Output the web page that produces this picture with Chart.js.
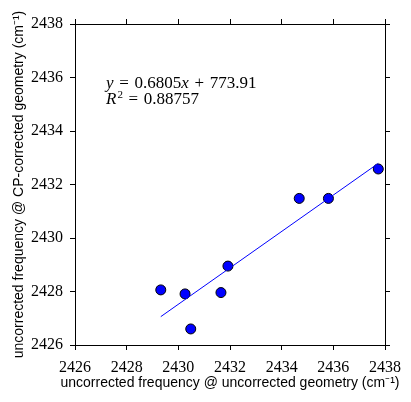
<!DOCTYPE html>
<html>
<head>
<meta charset="utf-8">
<script src="https://cdn.jsdelivr.net/npm/chart.js@4"></script>
<style>
  html, body { margin: 0; padding: 0; background: #fff; }
  #wrap { width: 411px; height: 402px; }
</style>
</head>
<body>
<div id="wrap"><canvas id="chart"></canvas></div>
<script>
// measured points (cm-1)
const xVals = [2429.32, 2430.26, 2430.48, 2431.65, 2431.92, 2434.68, 2435.81, 2437.74];
const yVals = [2428.06, 2427.91, 2426.60, 2427.96, 2428.95, 2431.48, 2431.48, 2432.58];

// fitted line end points
const fitX = [2429.32, 2437.74];
const fitY = [2427.06, 2432.79];

const axisMin = 2426, axisMax = 2438, axisStep = 2;

const xTitle = 'uncorrected frequency @ uncorrected geometry (cm⁻¹)';
const yTitle = 'uncorrected frequency @ CP-corrected geometry (cm⁻¹)';

const serif = "'Liberation Serif', 'DejaVu Serif', serif";
const sans  = "'Liberation Sans', Arial, sans-serif";

// equation label, drawn in pieces (italic for symbols)
const eqLines = [
    [['y', 'i'], ['\u2004=\u20040.6805', 'n'], ['x', 'i'], ['\u2004+\u2004773.91', 'n']],
    [['R', 'i'], ['2', 's'], ['\u2004=\u20040.88757', 'n']],
];

const textPlugin = {
    id: 'texts',
    afterDatasetsDraw(chart) {
        const ctx = chart.ctx;
        const a = chart.chartArea;
        ctx.save();
        ctx.fillStyle = '#000';
        ctx.textBaseline = 'alphabetic';
        ctx.textAlign = 'left';
        let y = 88;
        eqLines.forEach(line => {
            let x = 106;
            line.forEach(([t, k]) => {
                if (k === 's') {
                    ctx.font = `11px ${serif}`;
                    ctx.fillText(t, x + 1, y - 6);
                    x += 1;
                } else {
                    ctx.font = `${k === 'i' ? 'italic ' : ''}17px ${serif}`;
                    ctx.fillText(t, x, y);
                }
                x += ctx.measureText(t).width;
            });
            y += 16;
        });

        // axis titles (drawn here so they are not squeezed to the axis length)
        ctx.font = `14px ${sans}`;
        ctx.textAlign = 'center';
        ctx.textBaseline = 'middle';
        ctx.fillText(xTitle, (a.left + a.right) / 2, 383);
        ctx.translate(19, (a.top + a.bottom) / 2);
        ctx.rotate(-Math.PI / 2);
        ctx.fillText(yTitle, 0, 0);
        ctx.restore();
    }
};

const fixSize = (w, h) => s => {
    if (w != null) s.width = w;
    if (h != null) s.height = h;
};

const tickFmt = v => String(v);

function axis(pos, extra) {
    return {
        position: pos,
        min: axisMin, max: axisMax,
        grid: { drawOnChartArea: false, tickLength: 5, color: '#000', lineWidth: 1 },
        border: { color: '#000', width: 1 },
        ticks: { stepSize: axisStep, callback: tickFmt, color: '#000',
                 font: { family: serif, size: 16 }, maxRotation: 0, autoSkip: false },
        ...extra,
    };
}

new Chart(document.getElementById('chart'), {
    type: 'scatter',
    data: {
        datasets: [
            {
                type: 'line',
                data: fitX.map((x, i) => ({ x, y: fitY[i] })),
                borderColor: '#0000ff', borderWidth: 1,
                pointRadius: 0, fill: false, tension: 0,
            },
            {
                data: xVals.map((x, i) => ({ x, y: yVals[i] })),
                backgroundColor: '#0000ff', borderColor: '#000', borderWidth: 1,
                pointRadius: 5, pointHoverRadius: 5,
            },
        ]
    },
    options: {
        responsive: true, maintainAspectRatio: false, animation: false,
        layout: { padding: 0 },
        plugins: { legend: { display: false }, tooltip: { enabled: false } },
        scales: {
            x: axis('bottom', {
                ticks: { stepSize: axisStep, callback: tickFmt, color: '#000', padding: 8,
                         font: { family: serif, size: 16 }, maxRotation: 0, autoSkip: false },
                afterFit: fixSize(null, 57),
            }),
            y: axis('left', {
                ticks: { stepSize: axisStep, callback: tickFmt, color: '#000', padding: 7,
                         font: { family: serif, size: 16 }, autoSkip: false },
                afterFit: fixSize(75, null),
            }),
            x2: axis('top', {
                ticks: { stepSize: axisStep, display: false },
                afterFit: fixSize(null, 24),
            }),
            y2: axis('right', {
                ticks: { stepSize: axisStep, display: false },
                afterFit: fixSize(26, null),
            }),
        }
    },
    plugins: [textPlugin]
});
</script>
</body>
</html>
